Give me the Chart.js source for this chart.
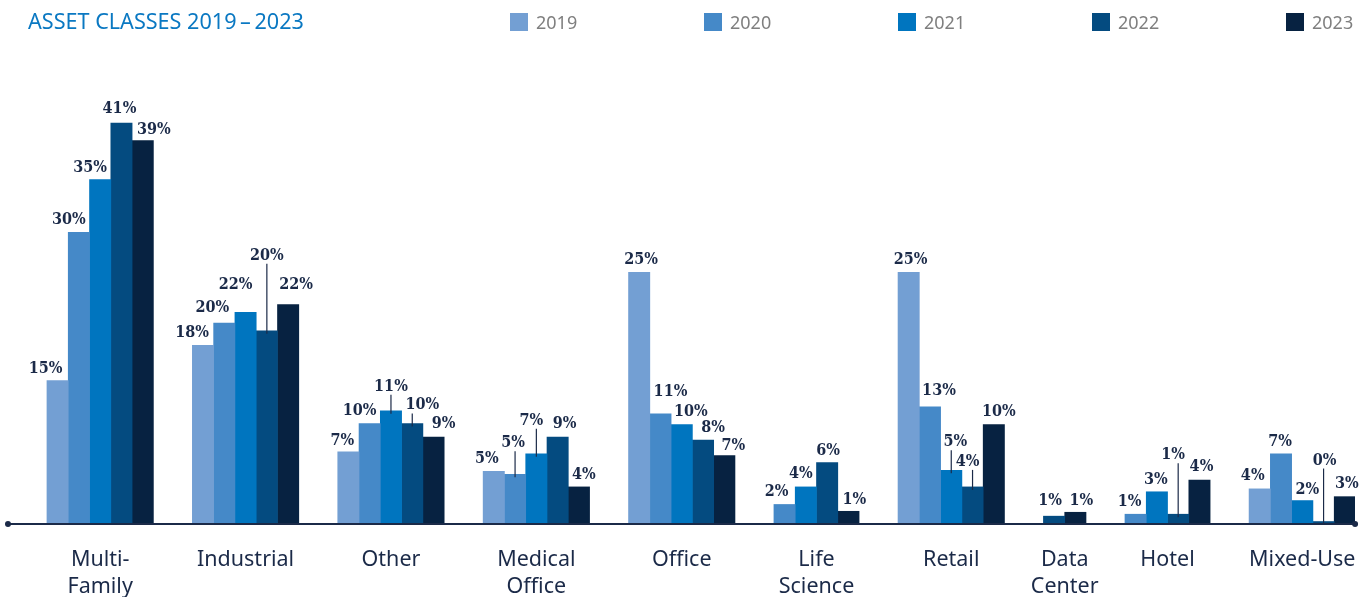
<!DOCTYPE html>
<html lang="en">
<head>
    <meta charset="UTF-8">
    <title>Asset Classes 2019–2023</title>
    <script src="https://cdn.jsdelivr.net/npm/chart.js"></script>
    <style>
        html, body { margin: 0; padding: 0; background: #fff; overflow: hidden; }
        .wrap { position: relative; width: 1371px; height: 597px; }
    </style>
</head>
<body>
    <div class="wrap"><canvas id="assetChart"></canvas></div>
    <script>
        const categories = ['Multi-Family', 'Industrial', 'Other', 'Medical Office', 'Office', 'Life Science', 'Retail', 'Data Center', 'Hotel', 'Mixed-Use'];
        const tickLabels = [['Multi-', 'Family'], ['Industrial'], ['Other'], ['Medical', 'Office'], ['Office'], ['Life', 'Science'], ['Retail'], ['Data', 'Center'], ['Hotel'], ['Mixed-Use']];
        const years = ['2019', '2020', '2021', '2022', '2023'];

        // bar heights (% of volume), null = no bar
        const share2019 = [14.6, 18.2, 7.3, 5.3, 25.7, null, 25.7, null, null, 3.5];
        const share2020 = [29.8, 20.5, 10.2, 5.0, 11.2, 1.9, 11.9, null, 0.9, 7.1];
        const share2021 = [35.2, 21.6, 11.5, 7.1, 10.1, 3.7, 5.4, null, 3.2, 2.3];
        const share2022 = [41.0, 19.7, 10.2, 8.8, 8.5, 6.2, 3.7, 0.7, 0.9, 0.15];
        const share2023 = [39.2, 22.4, 8.8, 3.7, 6.9, 1.2, 10.1, 1.1, 4.4, 2.7];

        // printed value labels
        const label2019 = [15, 18, 7, 5, 25, null, 25, null, null, 4];
        const label2020 = [30, 20, 10, 5, 11, 2, 13, null, 1, 7];
        const label2021 = [35, 22, 11, 7, 10, 4, 5, null, 3, 2];
        const label2022 = [41, 20, 10, 9, 8, 6, 4, 1, 1, 0];
        const label2023 = [39, 22, 9, 4, 7, 1, 10, 1, 4, 3];

        const series = [share2019, share2020, share2021, share2022, share2023];
        const printed = [label2019, label2020, label2021, label2022, label2023];
        const colors = ['#739fd3', '#4589c8', '#0075bf', '#044b80', '#072241'];

        // label nudges: [dx px, lift above bar px, leader line]
        const labelPos = [
            [[-12, 8], [-11, 8], [-6, 7], [-7, 8], [2, 8], null, [2, 8], null, null, [-7, 9]],
            [[-10, 8], [-12, 11], [-10, 8], [-2, 27, 1], [10, 18], [-8, 8], [9, 12], null, [-6, 8], [-1, 8]],
            [[-10, 8], [-10, 23], [0, 20, 1], [-5, 29, 1], [9, 8], [-5, 9], [4, 24, 1], null, [-1, 8], [5, 7]],
            [[-2, 10], [0, 71, 1], [10, 14, 1], [7, 9], [10, 8], [1, 8], [-5, 21, 1], [-4, 11], [-5, 55, 1], [1, 57, 1]],
            [[11, 7], [8, 15], [10, 9], [5, 8], [9, 6], [6, 7], [5, 8], [6, 7], [2, 9], [2, 9]]
        ];

        // bars are packed side by side, empty years are dropped, groups split by a gap
        const GAP = 1.83;
        const xPos = [];
        const centers = [];
        let cursor = 0;
        categories.forEach((c, ci) => {
            const row = [];
            const used = [];
            series.forEach((s, si) => {
                if (s[ci] != null) {
                    row[si] = cursor;
                    used.push(cursor);
                    cursor += 1;
                }
            });
            centers.push((used[0] + used[used.length - 1]) / 2);
            xPos.push(row);
            cursor += GAP;
        });

        const ink = '#1b2a48';
        const sans = '"Noto Sans", "Open Sans", sans-serif';

        const decor = {
            id: 'decor',
            beforeDraw(chart) {
                const ctx = chart.ctx;
                ctx.save();
                ctx.textBaseline = 'alphabetic';
                ctx.textAlign = 'left';
                ctx.fillStyle = '#0a78c2';
                ctx.font = '21.6px ' + sans;
                ctx.fillText('ASSET CLASSES 2019\u2009\u2013\u20092023', 28, 29);
                ctx.font = '18px ' + sans;
                years.forEach((y, i) => {
                    const x = 510 + i * 194;
                    ctx.fillStyle = colors[i];
                    ctx.fillRect(x, 13, 18, 18);
                    ctx.fillStyle = '#7f7f7f';
                    ctx.fillText(y, x + 26, 29);
                });
                ctx.restore();
            },
            afterDatasetsDraw(chart) {
                const ctx = chart.ctx;
                const area = chart.chartArea;
                ctx.save();
                // base line with end dots
                ctx.strokeStyle = ink;
                ctx.fillStyle = ink;
                ctx.lineWidth = 2;
                ctx.beginPath();
                ctx.moveTo(area.left, area.bottom + 1);
                ctx.lineTo(area.right, area.bottom + 1);
                ctx.stroke();
                [area.left, area.right].forEach(x => {
                    ctx.beginPath();
                    ctx.arc(x, area.bottom + 1, 3, 0, Math.PI * 2);
                    ctx.fill();
                });
                // value labels
                ctx.font = 'bold 16px "DejaVu Serif Condensed", "DejaVu Serif", serif';
                ctx.textAlign = 'center';
                ctx.textBaseline = 'alphabetic';
                ctx.lineWidth = 1.2;
                chart.data.datasets.forEach((ds, si) => {
                    const meta = chart.getDatasetMeta(si);
                    meta.data.forEach((bar, k) => {
                        const ci = ds.data[k].cat;
                        const pos = labelPos[si][ci] || [0, 8];
                        const base = bar.y - pos[1];
                        ctx.fillText(printed[si][ci] + '%', bar.x + pos[0], base);
                        if (pos[2]) {
                            ctx.beginPath();
                            ctx.moveTo(bar.x, base + 4);
                            ctx.lineTo(bar.x, bar.y + 3);
                            ctx.stroke();
                        }
                    });
                });
                ctx.restore();
            }
        };

        const ctx = document.getElementById('assetChart').getContext('2d');
        new Chart(ctx, {
            type: 'bar',
            data: {
                datasets: years.map((y, si) => ({
                    label: y,
                    data: categories
                        .map((c, ci) => series[si][ci] == null ? null : { x: xPos[ci][si], y: series[si][ci], cat: ci })
                        .filter(Boolean),
                    backgroundColor: colors[si],
                    borderWidth: 0,
                    grouped: false,
                    barPercentage: 1,
                    categoryPercentage: 1
                }))
            },
            options: {
                responsive: true,
                maintainAspectRatio: false,
                animation: false,
                layout: { padding: { left: 8, right: 13, top: 84, bottom: 0 } },
                plugins: { legend: { display: false }, tooltip: { enabled: false }, title: { display: false } },
                scales: {
                    x: {
                        type: 'linear',
                        min: -2.33,
                        max: 60.95,
                        offset: false,
                        grid: { display: false },
                        border: { display: false },
                        afterBuildTicks: (scale) => { scale.ticks = centers.map(v => ({ value: v })); },
                        afterFit: (scale) => { scale.height = 74; },
                        ticks: {
                            autoSkip: false,
                            maxRotation: 0,
                            minRotation: 0,
                            padding: 15,
                            color: ink,
                            font: { family: sans, size: 21.5, lineHeight: 1.27 },
                            callback: (value, index) => tickLabels[index]
                        }
                    },
                    y: { display: false, min: 0, max: 45 }
                }
            },
            plugins: [decor]
        });
    </script>
</body>
</html>
